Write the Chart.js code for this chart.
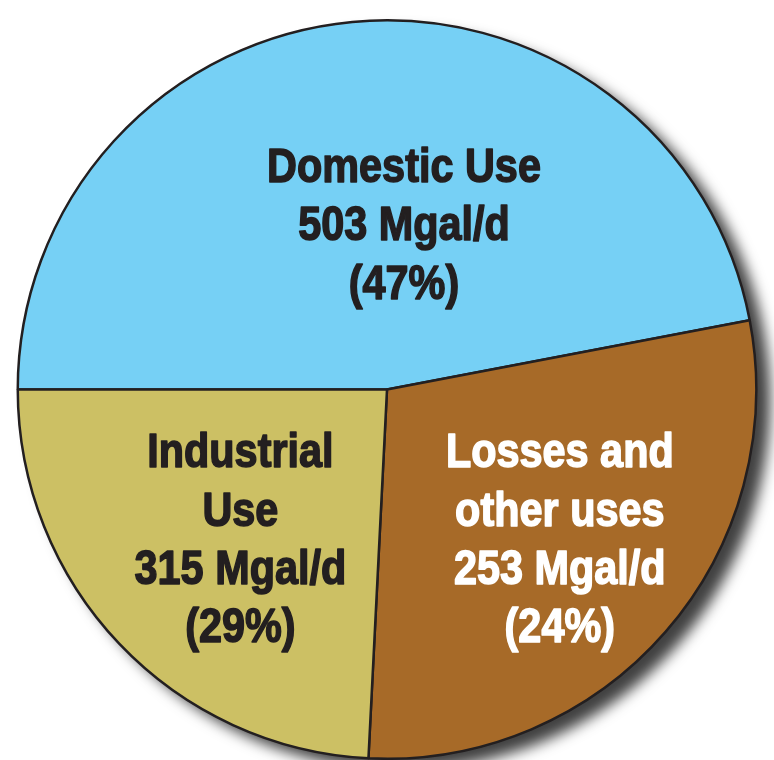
<!DOCTYPE html>
<html>
<head>
<meta charset="utf-8">
<script src="https://cdn.jsdelivr.net/npm/chart.js@4/dist/chart.umd.min.js"></script>
<style>
  html, body { margin: 0; padding: 0; background: #ffffff; }
  #wrap { width: 774px; height: 760px; position: relative; }
</style>
</head>
<body>
<div id="wrap"><canvas id="c" width="774" height="760"></canvas></div>
<script>
// ---- data ----
const categories = ["Domestic Use", "Losses and other uses", "Industrial Use"];
const flowMgald = [503, 253, 315];            // Mgal/d, as labelled
const percentLabels = ["47%", "24%", "29%"];  // as labelled
// share of the circle each slice occupies, measured from the drawn slice angles
const arcShare = [47.0, 28.8, 24.2];
// text lines printed inside each slice
const labelLines = [
  ["Domestic Use", "503 Mgal/d", "(47%)"],
  ["Losses and", "other uses", "253 Mgal/d", "(24%)"],
  ["Industrial", "Use", "315 Mgal/d", "(29%)"]
];

// ---- styles ----
const sliceColors = ["#76D0F5", "#A76A28", "#CCC064"];
const textColors = ["#231F20", "#FFFFFF", "#231F20"];
// label block anchor (fractions of radius from centre): x centre, first baseline
const labelAnchor = [
  { fx: 0.046, fy: -0.562 },
  { fx: 0.468, fy: 0.211 },
  { fx: -0.397, fy: 0.211 }
];
const lineStep = 0.158; // fraction of radius
const fontFamily = "'Liberation Sans', Arial, sans-serif";
const condense = 0.845;  // horizontal squeeze to mimic a condensed face

const shadowPlugin = {
  id: 'shadowCircle',
  beforeDatasetsDraw(chart) {
    const arc = chart.getDatasetMeta(0).data[0];
    if (!arc) return;
    const { x, y, outerRadius } = arc.getProps(['x', 'y', 'outerRadius'], true);
    const ctx = chart.ctx;
    ctx.save();
    ctx.shadowColor = 'rgba(0,0,0,0.75)';
    ctx.shadowBlur = 14;
    ctx.shadowOffsetX = 14;
    ctx.shadowOffsetY = 11;
    ctx.beginPath();
    ctx.arc(x, y, outerRadius, 0, Math.PI * 2);
    ctx.fillStyle = '#ffffff';
    ctx.fill();
    ctx.restore();
  }
};

const labelPlugin = {
  id: 'sliceLabels',
  afterDatasetsDraw(chart) {
    const meta = chart.getDatasetMeta(0);
    const ctx = chart.ctx;
    meta.data.forEach((arc, i) => {
      const { x, y, outerRadius } = arc.getProps(['x', 'y', 'outerRadius'], true);
      const R = outerRadius;
      const ax = x + labelAnchor[i].fx * R;
      const ay = y + labelAnchor[i].fy * R;
      ctx.save();
      ctx.font = "bold 49px " + fontFamily;
      ctx.fillStyle = textColors[i];
      ctx.strokeStyle = textColors[i];
      ctx.lineWidth = 1.6;
      ctx.lineJoin = 'round';
      ctx.textAlign = 'center';
      ctx.textBaseline = 'alphabetic';
      ctx.translate(ax, 0);
      ctx.scale(condense, 1);
      labelLines[i].forEach((line, k) => {
        const ly = ay + k * lineStep * R;
        ctx.fillText(line, 0, ly);
        ctx.strokeText(line, 0, ly);
      });
      ctx.restore();
    });
  }
};

new Chart(document.getElementById('c'), {
  type: 'pie',
  data: {
    labels: categories,
    datasets: [{
      data: arcShare,
      backgroundColor: sliceColors,
      borderColor: '#231F20',
      borderWidth: 2.5
    }]
  },
  options: {
    responsive: false,
    animation: false,
    rotation: -90,
    layout: { padding: { top: 19, bottom: 0, left: 0, right: 0 } },
    plugins: {
      legend: { display: false },
      tooltip: { enabled: false }
    }
  },
  plugins: [shadowPlugin, labelPlugin]
});
</script>
</body>
</html>
